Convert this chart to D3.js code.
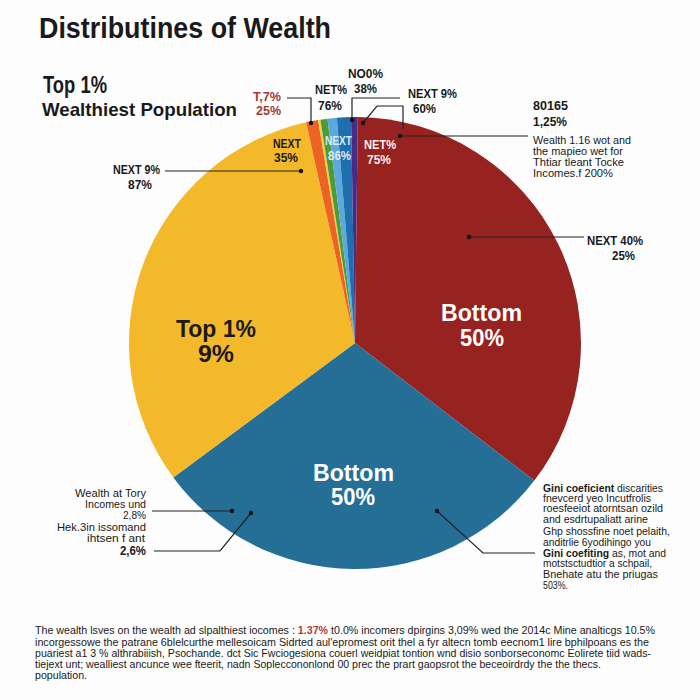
<!DOCTYPE html>
<html>
<head>
<meta http-equiv="content-type" content="text/html; charset=UTF8">
<script src="https://cdnjs.cloudflare.com/ajax/libs/d3/7.8.5/d3.min.js"></script>
<style>
  body { margin: 0; background: #fdfdfd; }
  text { font-family: "Liberation Sans", Arial, sans-serif; }
</style>
</head>
<body>
<svg id="chart" width="700" height="700"></svg>
<script>
// slices clockwise from the top, share in degrees of the circle
var sliceNames = ["Bottom 50% red", "Bottom 50% blue", "Top 1%", "T,7%", "thin", "NET%", "NEXT", "NO0%", "NEXT 9%"];
var sliceValues = [126.8, 106, 114, 3.1, 0.6, 1.8, 2.4, 3.6, 1.7];
var sliceColors = ["#962320", "#256f97", "#f3b92a", "#ec6324", "#f0d040", "#4c9a3c", "#5da9dc", "#1f6fae", "#4b2a85"];

var reportLines = [
  "The wealth lsves on the wealth ad slpalthiest iocomes : ",
  "incorgessowe the patrane 6blelcurthe mellesoicam Sidrted aul'epromest orit thel a fyr altecn tomb eecnom1 lire bphilpoans es the",
  "puariest a1 3 % althrabiiish, Psochande. dct Sic Fwciogesiona couerl weidpiat tontion wnd disio sonborseconomc Eolirete tiid wads-",
  "tiejext unt; wealliest ancunce wee fteerit, nadn Sopleccononlond 00 prec the prart gaopsrot the beceoirdrdy the the thecs.",
  "population."
];
var giniLines = [
  "discarities", "fnevcerd yeo Incutfrolis", "roesfeeiot atorntsan ozild", "and esdrtupaliatt arine",
  "Ghp shossfine noet pelaith,", "anditrlie 6yodihingo you", "as, mot and",
  "motstsctudtior a schpail,", "Bnehate atu the priugas", "503%."
];

var svg = d3.select("#chart");
var cx = 355, cy = 343, radius = 226;
var deg = Math.PI / 180;

var pie = d3.pie().sort(null).startAngle(0.7 * deg).endAngle(360.7 * deg);
var arc = d3.arc().innerRadius(0).outerRadius(radius);

svg.append("g")
  .attr("transform", "translate(" + cx + "," + cy + ")")
  .selectAll("path")
  .data(pie(sliceValues))
  .enter()
  .append("path")
  .attr("d", arc)
  .attr("fill", function (d, i) { return sliceColors[i]; });

// text helper: width squeezes the string to the measured length
function label(str, x, y, size, weight, width, anchor, fill) {
  var t = svg.append("text")
    .attr("x", x)
    .attr("y", y)
    .attr("font-size", size)
    .attr("font-weight", weight)
    .attr("text-anchor", anchor || "start")
    .attr("fill", fill || "#1a1a1a")
    .text(str);
  if (width) t.attr("textLength", width).attr("lengthAdjust", "spacingAndGlyphs");
  return t;
}

function leader(points, dot, color) {
  svg.append("path")
    .attr("d", d3.line()(points))
    .attr("fill", "none")
    .attr("stroke", color || "#222")
    .attr("stroke-width", 1.2);
  svg.append("circle")
    .attr("cx", dot[0])
    .attr("cy", dot[1])
    .attr("r", 2.2)
    .attr("fill", "#111");
}

// leaders
leader([[287, 98], [311, 98], [311, 123]], [311, 123]);
leader([[400, 98], [352, 98], [352, 120]], [352, 120]);
leader([[363, 123], [377, 106], [403, 106], [403, 129]], [363, 123]);
leader([[400, 136], [528, 136]], [400, 136]);
leader([[165, 171], [301, 171]], [301, 171]);
leader([[469, 237], [584, 237]], [469, 237]);
leader([[152, 511], [232, 511]], [232, 511]);
leader([[251, 513], [220, 551], [154, 551]], [251, 513]);
leader([[437, 511], [483, 553], [535, 553]], [437, 511]);

// headings
label("Distributines of Wealth", 39, 38, 29, 700, 292);
label("Top 1%", 43, 93, 23, 700, 64);
label("Wealthiest Population", 42, 116, 19, 700, 195);

// labels above the pie
label("T,7%", 253, 101, 13.5, 700, 28, "start", "#a33a36");
label("25%", 256, 115, 13.5, 700, 25, "start", "#a33a36");
label("NET%", 315, 94, 13.5, 700, 32);
label("76%", 318, 110, 13.5, 700, 24);
label("NO0%", 348, 78, 13.5, 700, 35);
label("38%", 354, 93, 13.5, 700, 23);
label("NEXT 9%", 408, 98, 13.5, 700, 49);
label("60%", 413, 113, 13.5, 700, 23);

// labels inside the small slices
label("NEXT", 273, 148, 13.5, 700, 28);
label("35%", 274, 162, 13.5, 700, 24);
label("NEXT", 325, 145, 13.5, 700, 27, "start", "#dcecf5");
label("86%", 328, 160, 13.5, 700, 23, "start", "#dcecf5");
label("NET%", 364, 149, 13.5, 700, 32, "start", "#f6eeee");
label("75%", 367, 164, 13.5, 700, 24, "start", "#f6eeee");

// big slice labels
label("Bottom", 441, 321, 24, 700, 81, "start", "#fff");
label("50%", 460, 346, 24, 700, 44, "start", "#fff");
label("Bottom", 313, 481, 24, 700, 81, "start", "#fff");
label("50%", 331, 505, 24, 700, 44, "start", "#fff");
label("Top 1%", 176, 337, 24, 700, 80);
label("9%", 198, 362, 24, 700, 36);

// side notes
label("NEXT 9%", 113, 174, 12.5, 700, 47);
label("87%", 128, 189, 12.5, 700, 24);
label("NEXT 40%", 587, 245, 12.5, 700, 56);
label("25%", 612, 260, 12.5, 700, 23);

label("80165", 533, 110, 13.5, 700, 35);
label("1,25%", 533, 126, 13.5, 700, 34);
label("Wealth  1.16 wot and", 533, 144, 11.5, 400, 98);
label("the mapieo wet for", 533, 155, 11.5, 400, 90);
label("Thtiar tleant Tocke", 533, 166, 11.5, 400, 91);
label("Incomes.f 200%", 533, 177, 11.5, 400, 80);

label("Wealth at Tory", 75, 497, 11.5, 400, 71);
label("Incomes und", 85, 508, 11.5, 400, 61);
label("2,8%", 123, 519, 11.5, 400, 23);
label("Hek.3in issomand", 57, 531, 11.5, 400, 89);
label("ihtsen f ant", 87, 542, 11.5, 400, 58);
label("2,6%", 120, 555, 12, 700, 26);

// gini note, first and seventh lines start with a bold phrase
var giniBase = [492, 502, 512, 523, 535, 546, 557, 567, 578, 589];
var giniWidth = [120, 108, 120, 105, 127, 108, 123, 109, 115, 25];
giniLines.forEach(function (line, i) {
  var bold = i === 0 ? "Gini coeficient " : i === 6 ? "Gini coefiting " : "";
  var t = label("", 543, giniBase[i], 11, 400, giniWidth[i]);
  if (bold) t.append("tspan").attr("font-weight", 700).text(bold);
  t.append("tspan").text(line);
});

// report text at the foot
var reportBase = [634, 646, 657, 668, 679];
var reportWidth = [620, 614, 616, 566, 52];
reportLines.forEach(function (line, i) {
  var t = label(line, 35, reportBase[i], 11, 400, reportWidth[i]);
  if (i === 0) {
    t.append("tspan").attr("fill", "#b23a3a").attr("font-weight", 700).text("1.37%");
    t.append("tspan").text(" t0.0% incomers dpirgins 3,09% wed the 2014c Mine analticgs 10.5%");
  }
});
</script>
</body>
</html>
